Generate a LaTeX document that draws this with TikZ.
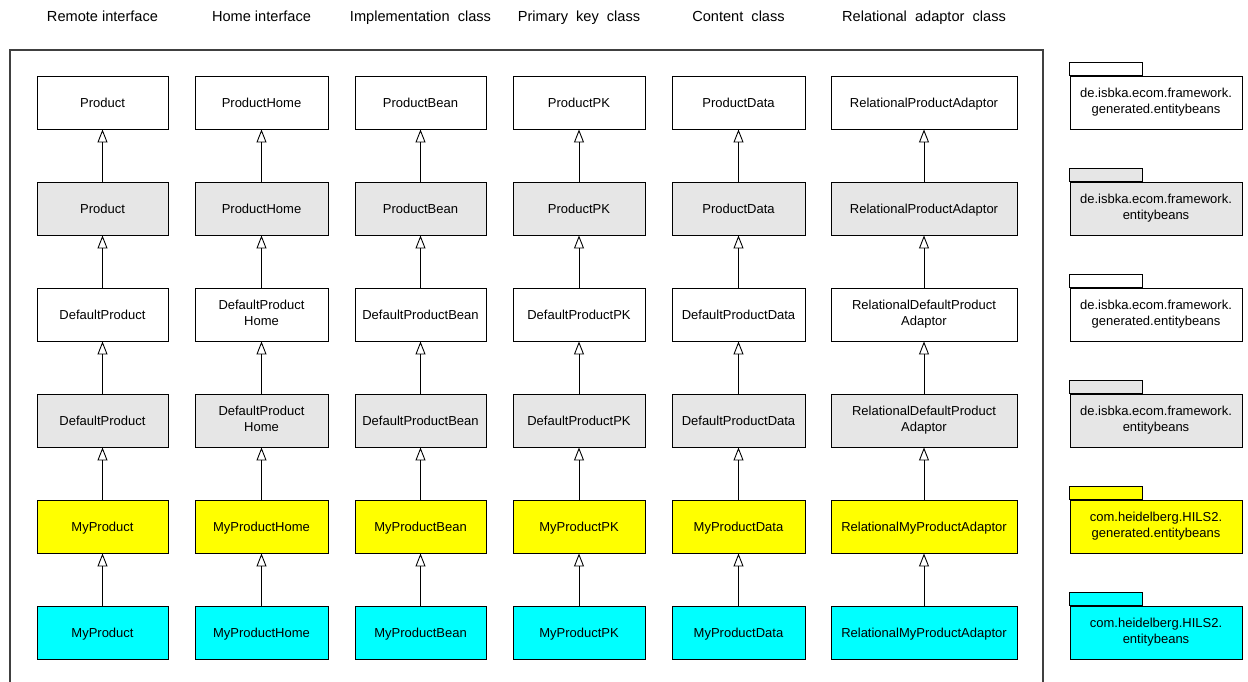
\documentclass[tikz,border=0pt]{standalone}
\usepackage{fontspec}
\setmainfont{Liberation Sans}
\usetikzlibrary{arrows.meta,shadows}
\definecolor{pkggrey}{HTML}{E6E6E6}
\definecolor{genyellow}{HTML}{FFFF00}
\definecolor{usercyan}{HTML}{00FFFF}
\begin{document}
\begin{tikzpicture}[x=0.02cm,y=-0.02cm,
  boxtext/.style={align=center, font=\fontsize{7.4}{9.1}\selectfont,
    execute at begin node=\rule{0pt}{7.6pt}, execute at end node=\rule[-1.6pt]{0pt}{0pt}},
  cls/.style={draw, line width=0.55pt, minimum height=1.06cm, inner sep=1pt, boxtext,
    drop shadow={shadow xshift=0.6pt, shadow yshift=-0.6pt, fill=black, opacity=1}},
  pkg/.style={draw, line width=0.55pt, minimum width=3.44cm, minimum height=1.06cm,
    inner sep=1pt, boxtext},
  head/.style={font=\fontsize{8.3}{10}\selectfont, anchor=base},
  gen/.style={-{Triangle[open, length=2.6mm, width=2.0mm]}, line width=0.5pt}]
\useasboundingbox (0,0) rectangle (1248,682);

% surrounding frame, open at the bottom
\draw[black!75, line width=0.6pt] (10,682) -- (10,50) -- (1043,50) -- (1043,682);

% column headings
\node[head] (h1) at (102.5,21.5) {Remote interface};
\node[head] (h2) at (261.5,21.5) {Home interface};
\node[head] (h3) at (420.5,21.5) {Implementation\ \ class};
\node[head] (h4) at (579,21.5) {Primary\ \ key\ \ class};
\node[head] (h5) at (738.5,21.5) {Content\ \ class};
\node[head] (h6) at (924,21.5) {Relational\ \ adaptor\ \ class};

% class boxes: six layers, one column per artefact kind
\foreach \r/\y/\f/\la/\lb/\lc/\ld/\le/\lf in {
  1/102.5/white/Product/ProductHome/ProductBean/ProductPK/ProductData/RelationalProductAdaptor,
  2/208.5/pkggrey/Product/ProductHome/ProductBean/ProductPK/ProductData/RelationalProductAdaptor,
  3/314.5/white/DefaultProduct/{DefaultProduct\\Home}/DefaultProductBean/DefaultProductPK/DefaultProductData/{RelationalDefaultProduct\\Adaptor},
  4/420.5/pkggrey/DefaultProduct/{DefaultProduct\\Home}/DefaultProductBean/DefaultProductPK/DefaultProductData/{RelationalDefaultProduct\\Adaptor},
  5/526.5/genyellow/MyProduct/MyProductHome/MyProductBean/MyProductPK/MyProductData/RelationalMyProductAdaptor,
  6/632.5/usercyan/MyProduct/MyProductHome/MyProductBean/MyProductPK/MyProductData/RelationalMyProductAdaptor}{
  \node[cls, minimum width=2.62cm, fill=\f] (b1\r) at (102.5,\y) {\la};
  \node[cls, minimum width=2.66cm, fill=\f] (b2\r) at (261.5,\y) {\lb};
  \node[cls, minimum width=2.62cm, fill=\f] (b3\r) at (420.5,\y) {\lc};
  \node[cls, minimum width=2.64cm, fill=\f] (b4\r) at (579,\y) {\ld};
  \node[cls, minimum width=2.66cm, fill=\f] (b5\r) at (738.5,\y) {\le};
  \node[cls, minimum width=3.72cm, fill=\f] (b6\r) at (924,\y) {\lf};
}

% inheritance arrows, each layer extends the one above
\foreach \c in {1,...,6}{
  \foreach \r/\u in {2/1,3/2,4/3,5/4,6/5}{
    \draw[gen] (b\c\r.north) -- (b\c\u.south);
  }
}

% legend packages
\foreach \r/\y/\f/\t in {
  1/102.5/white/{de.isbka.ecom.framework.\\generated.entitybeans},
  2/208.5/pkggrey/{de.isbka.ecom.framework.\\entitybeans},
  3/314.5/white/{de.isbka.ecom.framework.\\generated.entitybeans},
  4/420.5/pkggrey/{de.isbka.ecom.framework.\\entitybeans},
  5/526.5/genyellow/{com.heidelberg.HILS2.\\generated.entitybeans},
  6/632.5/usercyan/{com.heidelberg.HILS2.\\entitybeans}}{
  \node[pkg, fill=\f] (p\r) at (1156,\y) {\t};
  \draw[line width=0.55pt, fill=\f] (p\r.north west) rectangle ++(73,-13);
}
\end{tikzpicture}
\end{document}
